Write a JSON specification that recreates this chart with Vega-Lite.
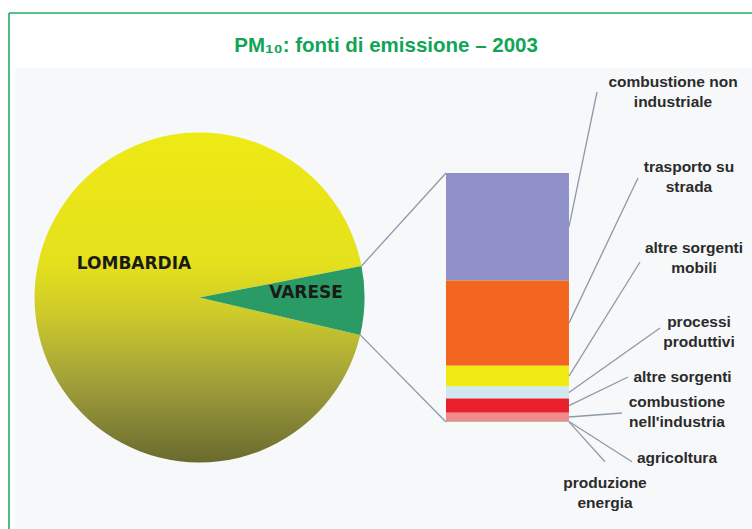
{
  "$schema": "https://vega.github.io/schema/vega-lite/v6.json",
  "width": 743,
  "height": 516,
  "autosize": "none",
  "padding": {"left": 9, "top": 13, "right": 0, "bottom": 0},
  "background": "white",
  "config": {"view": {"stroke": null, "fill": "white"}, "font": "Liberation Sans"},
  "datasets": {
    "regioni": [
      {"regione": "LOMBARDIA", "quota": 93.3},
      {"regione": "VARESE", "quota": 6.7}
    ],
    "fonti": [
      {"fonte": "combustione non industriale", "pct": 43.2},
      {"fonte": "trasporto su strada", "pct": 34.2},
      {"fonte": "altre sorgenti mobili", "pct": 8.3},
      {"fonte": "processi produttivi", "pct": 4.9},
      {"fonte": "altre sorgenti", "pct": 5.7},
      {"fonte": "combustione nell'industria", "pct": 3.4},
      {"fonte": "agricoltura", "pct": 0.2},
      {"fonte": "produzione energia", "pct": 0.1}
    ]
  },
  "layer": [
    {
      "data": {"values": [{}]},
      "transform": [
        {"calculate": "0.79", "as": "a"}, {"calculate": "97.763", "as": "b"},
        {"calculate": "142.17", "as": "c"}, {"calculate": "-42.972", "as": "d"}
      ],
      "mark": {"type": "rect", "color": "#f7f8fa"},
      "encoding": {
        "x": {"field": "a", "type": "quantitative", "scale": {"domain": [0, 97.763], "nice": false, "zero": false}, "axis": null},
        "x2": {"field": "b"},
        "y": {"field": "c", "type": "quantitative", "scale": {"domain": [-42.972, 164.257], "nice": false, "zero": false}, "axis": null},
        "y2": {"field": "d"}
      }
    },
    {
      "data": {"values": [{}]},
      "transform": [
        {"calculate": "0", "as": "a"}, {"calculate": "97.763", "as": "b"},
        {"calculate": "164.257", "as": "c"}, {"calculate": "164.257", "as": "d"}
      ],
      "mark": {"type": "rule", "color": "#1fae66", "strokeWidth": 1.6},
      "encoding": {
        "x": {"field": "a", "type": "quantitative", "scale": {"domain": [0, 97.763], "nice": false, "zero": false}, "axis": null},
        "x2": {"field": "b"},
        "y": {"field": "c", "type": "quantitative", "scale": {"domain": [-42.972, 164.257], "nice": false, "zero": false}, "axis": null},
        "y2": {"field": "d"}
      }
    },
    {
      "data": {"values": [{}]},
      "transform": [
        {"calculate": "0", "as": "a"}, {"calculate": "0", "as": "b"},
        {"calculate": "-42.972", "as": "c"}, {"calculate": "164.257", "as": "d"}
      ],
      "mark": {"type": "rule", "color": "#1fae66", "strokeWidth": 1.6},
      "encoding": {
        "x": {"field": "a", "type": "quantitative", "scale": {"domain": [0, 97.763], "nice": false, "zero": false}, "axis": null},
        "x2": {"field": "b"},
        "y": {"field": "c", "type": "quantitative", "scale": {"domain": [-42.972, 164.257], "nice": false, "zero": false}, "axis": null},
        "y2": {"field": "d"}
      }
    },
    {
      "data": {"values": [{}]},
      "transform": [{"calculate": "49.61", "as": "a"}, {"calculate": "148.71", "as": "c"}],
      "mark": {"type": "text", "text": "PM₁₀: fonti di emissione – 2003", "fontSize": 20.5, "fontWeight": "bold", "color": "#10a556", "align": "center", "baseline": "alphabetic"},
      "encoding": {
        "x": {"field": "a", "type": "quantitative", "scale": {"domain": [0, 97.763], "nice": false, "zero": false}, "axis": null},
        "y": {"field": "c", "type": "quantitative", "scale": {"domain": [-42.972, 164.257], "nice": false, "zero": false}, "axis": null}
      }
    },
    {
      "data": {"values": [{"lato": "alto"}, {"lato": "basso"}]},
      "transform": [
        {"calculate": "datum.lato === 'alto' ? 46.38 : 46.21", "as": "a"},
        {"calculate": "57.5", "as": "b"},
        {"calculate": "datum.lato === 'alto' ? 62.65 : 34.98", "as": "c"},
        {"calculate": "datum.lato === 'alto' ? 100 : 0", "as": "d"}
      ],
      "mark": {"type": "rule", "color": "#8c9aa9", "strokeWidth": 1.3},
      "encoding": {
        "x": {"field": "a", "type": "quantitative", "scale": {"domain": [0, 97.763], "nice": false, "zero": false}, "axis": null},
        "x2": {"field": "b"},
        "y": {"field": "c", "type": "quantitative", "scale": {"domain": [-42.972, 164.257], "nice": false, "zero": false}, "axis": null},
        "y2": {"field": "d"}
      }
    },
    {
      "data": {"name": "regioni"},
      "transform": [
        {"calculate": "datum.regione === 'VARESE' ? 0 : 1", "as": "k"},
        {"stack": "quota", "groupby": [], "sort": [{"field": "k", "order": "ascending"}], "as": ["t0", "t1"]},
        {"filter": "datum.regione === 'LOMBARDIA'"},
        {"calculate": "25.07", "as": "cx"}, {"calculate": "50", "as": "cy"}
      ],
      "mark": {"type": "arc", "outerRadius": 165, "innerRadius": 0, "color": {"gradient": "linear", "x1": 0, "y1": 0, "x2": 0, "y2": 1, "stops": [
        {"offset": 0, "color": "#eeea14"},
        {"offset": 0.4, "color": "#e4e01d"},
        {"offset": 0.55, "color": "#cdca2b"},
        {"offset": 0.75, "color": "#a2a13a"},
        {"offset": 1, "color": "#6a6a30"}
      ]}},
      "encoding": {
        "x": {"field": "cx", "type": "quantitative", "scale": {"domain": [0, 97.763], "nice": false, "zero": false}, "axis": null},
        "y": {"field": "cy", "type": "quantitative", "scale": {"domain": [-42.972, 164.257], "nice": false, "zero": false}, "axis": null},
        "theta": {"field": "t0", "type": "quantitative", "scale": {"domain": [0, 100], "range": [1.3788, 7.662]}},
        "theta2": {"field": "t1"}
      }
    },
    {
      "data": {"name": "regioni"},
      "transform": [
        {"calculate": "datum.regione === 'VARESE' ? 0 : 1", "as": "k"},
        {"stack": "quota", "groupby": [], "sort": [{"field": "k", "order": "ascending"}], "as": ["t0", "t1"]},
        {"filter": "datum.regione === 'VARESE'"},
        {"calculate": "25.07", "as": "cx"}, {"calculate": "50", "as": "cy"}
      ],
      "mark": {"type": "arc", "outerRadius": 165, "innerRadius": 0, "color": "#2b9b66"},
      "encoding": {
        "x": {"field": "cx", "type": "quantitative", "scale": {"domain": [0, 97.763], "nice": false, "zero": false}, "axis": null},
        "y": {"field": "cy", "type": "quantitative", "scale": {"domain": [-42.972, 164.257], "nice": false, "zero": false}, "axis": null},
        "theta": {"field": "t0", "type": "quantitative", "scale": {"domain": [0, 100], "range": [1.3788, 7.662]}},
        "theta2": {"field": "t1"}
      }
    },
    {
      "data": {"name": "regioni"},
      "transform": [
        {"calculate": "datum.regione === 'LOMBARDIA' ? 16.45 : 39.08", "as": "px"},
        {"calculate": "datum.regione === 'LOMBARDIA' ? 61.45 : 49.68", "as": "py"}
      ],
      "mark": {"type": "text", "font": "DejaVu Sans", "fontSize": 17, "fontWeight": "bold", "color": "#1a1a1a", "align": "center", "baseline": "alphabetic"},
      "encoding": {
        "x": {"field": "px", "type": "quantitative", "scale": {"domain": [0, 97.763], "nice": false, "zero": false}, "axis": null},
        "y": {"field": "py", "type": "quantitative", "scale": {"domain": [-42.972, 164.257], "nice": false, "zero": false}, "axis": null},
        "text": {"field": "regione", "type": "nominal"}
      }
    },
    {
      "data": {"name": "fonti"},
      "transform": [
        {"calculate": "indexof(['combustione non industriale','trasporto su strada','altre sorgenti mobili','processi produttivi','altre sorgenti',\"combustione nell'industria\",'agricoltura','produzione energia'], datum.fonte)", "as": "i"},
        {"stack": "pct", "groupby": [], "sort": [{"field": "i", "order": "descending"}], "as": ["y0", "y1"]},
        {"calculate": "57.5", "as": "a"}, {"calculate": "73.68", "as": "b"}
      ],
      "mark": {"type": "rect"},
      "encoding": {
        "x": {"field": "a", "type": "quantitative", "scale": {"domain": [0, 97.763], "nice": false, "zero": false}, "axis": null},
        "x2": {"field": "b"},
        "y": {"field": "y0", "type": "quantitative", "scale": {"domain": [-42.972, 164.257], "nice": false, "zero": false}, "axis": null},
        "y2": {"field": "y1"},
        "color": {
          "field": "fonte", "type": "nominal", "legend": null,
          "scale": {
            "domain": ["combustione non industriale", "trasporto su strada", "altre sorgenti mobili", "processi produttivi", "altre sorgenti", "combustione nell'industria", "agricoltura", "produzione energia"],
            "range": ["#8f90c7", "#f2661f", "#f2ea15", "#cfe8ef", "#e8202a", "#f08a8c", "#9bc56c", "#7f7f7f"]
          }
        }
      }
    },
    {
      "data": {"name": "fonti"},
      "transform": [
        {"calculate": "indexof(['combustione non industriale','trasporto su strada','altre sorgenti mobili','processi produttivi','altre sorgenti',\"combustione nell'industria\",'agricoltura','produzione energia'], datum.fonte)", "as": "i"},
        {"stack": "pct", "groupby": [], "sort": [{"field": "i", "order": "descending"}], "as": ["y0", "y1"]},
        {"calculate": "(datum.y0 + datum.y1) / 2", "as": "ym"},
        {"calculate": "73.68", "as": "a"},
        {"calculate": "[77.37, 82.76, 83.03, 85.66, 81.45, 80.66, 81.97, 78.42][datum.i]", "as": "lx"},
        {"calculate": "[132.53, 97.99, 64.26, 37.75, 18.07, 3.62, -15.94, -15.94][datum.i]", "as": "ly"}
      ],
      "mark": {"type": "rule", "color": "#8c9aa9", "strokeWidth": 1.3},
      "encoding": {
        "x": {"field": "a", "type": "quantitative", "scale": {"domain": [0, 97.763], "nice": false, "zero": false}, "axis": null},
        "x2": {"field": "lx"},
        "y": {"field": "ym", "type": "quantitative", "scale": {"domain": [-42.972, 164.257], "nice": false, "zero": false}, "axis": null},
        "y2": {"field": "ly"}
      }
    },
    {
      "data": {"name": "fonti"},
      "transform": [
        {"calculate": "indexof(['combustione non industriale','trasporto su strada','altre sorgenti mobili','processi produttivi','altre sorgenti',\"combustione nell'industria\",'agricoltura','produzione energia'], datum.fonte)", "as": "i"},
        {"calculate": "[87.37, 89.47, 90.13, 90.79, 88.62, 87.89, 87.89, 78.42][datum.i]", "as": "tx"},
        {"calculate": "[134.54, 100.4, 67.87, 38.15, 16.06, 6.02, -16.47, -26.51][datum.i]", "as": "ty"},
        {"calculate": "[['combustione non','industriale'],['trasporto su','strada'],['altre sorgenti','mobili'],['processi','produttivi'],['altre sorgenti'],['combustione',\"nell'industria\"],['agricoltura'],['produzione','energia']][datum.i]", "as": "testo"}
      ],
      "mark": {"type": "text", "fontSize": 15.5, "fontWeight": "bold", "color": "#2b2b2b", "align": "center", "baseline": "alphabetic", "lineHeight": 20},
      "encoding": {
        "x": {"field": "tx", "type": "quantitative", "scale": {"domain": [0, 97.763], "nice": false, "zero": false}, "axis": null},
        "y": {"field": "ty", "type": "quantitative", "scale": {"domain": [-42.972, 164.257], "nice": false, "zero": false}, "axis": null},
        "text": {"field": "testo", "type": "nominal"}
      }
    }
  ]
}
